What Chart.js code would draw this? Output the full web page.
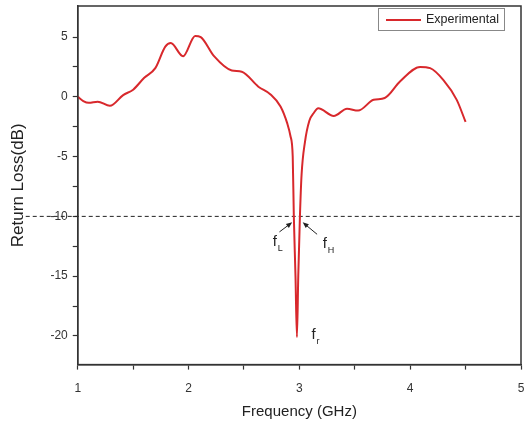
<!DOCTYPE html>
<html>
<head>
<meta charset="utf-8">
<script src="https://cdn.jsdelivr.net/npm/chart.js@4"></script>
<style>
  html, body { margin: 0; padding: 0; background: #fff; overflow: hidden; }
  #rlChart { display: block; }
</style>
</head>
<body>
<canvas id="rlChart" width="526" height="424"></canvas>
<script>
const freqGHz = [1.0, 1.05, 1.1, 1.18, 1.29, 1.41, 1.5, 1.6, 1.7, 1.79, 1.84, 1.95, 2.06, 2.11,
  2.23, 2.39, 2.48, 2.63, 2.74, 2.83, 2.89, 2.92, 2.94, 2.95, 2.965, 2.978, 2.99, 3.005, 3.02,
  3.05, 3.09, 3.13, 3.17, 3.31, 3.43, 3.53, 3.67, 3.77, 3.91, 4.09, 4.18, 4.3, 4.42, 4.5];
const returnLoss = [0.0, -0.35, -0.5, -0.4, -0.75, 0.15, 0.6, 1.6, 2.4, 4.2, 4.5, 3.4, 5.1, 5.0,
  3.4, 2.2, 2.1, 0.85, 0.2, -0.8, -2.2, -3.3, -5.0, -10.0, -15.0, -20.1, -15.0, -10.0, -6.5,
  -3.8, -2.0, -1.35, -0.95, -1.6, -1.0, -1.15, -0.25, -0.1, 1.3, 2.5, 2.4, 1.4, -0.25, -2.1];

// major (labelled) and minor tick positions
const xTicks = [1, 2, 3, 4, 5];
const xMinor = [1.5, 2.5, 3.5, 4.5];
const yTicks = [-20, -15, -10, -5, 0, 5];
const yMinor = [-17.5, -12.5, -7.5, -2.5, 2.5];
const refLevel = -10;

// subscripted labels and their arrows, in data units
const marks = [
  { x: 2.76, y: -12.1, main: 'f', sub: 'L', from: [2.82, -11.3], to: [2.935, -10.5] },
  { x: 3.21, y: -12.2, main: 'f', sub: 'H', from: [3.16, -11.5], to: [3.03, -10.5] },
  { x: 3.11, y: -19.8, main: 'f', sub: 'r' }
];

const font = 'Arial, "Liberation Sans", sans-serif';
const red = '#d8282c';
const axisColor = '#333';

function setTicks(axis, major, minor) {
  const all = major.concat(minor).filter(v => v >= axis.min && v <= axis.max).sort((a, b) => a - b);
  axis.ticks = all.map(v => ({ value: v, major: major.includes(v) }));
}

const extras = {
  id: 'extras',
  beforeDatasetsDraw(chart) {
    const { ctx, chartArea, scales } = chart;
    const y = scales.y.getPixelForValue(refLevel);
    ctx.save();
    ctx.strokeStyle = '#222';
    ctx.lineWidth = 1;
    ctx.setLineDash([4, 3]);
    ctx.beginPath();
    ctx.moveTo(chartArea.left - 52, y);
    ctx.lineTo(chartArea.right, y);
    ctx.stroke();
    ctx.restore();
  },
  afterDraw(chart) {
    const { ctx, chartArea, scales } = chart;
    ctx.save();
    // frame
    ctx.strokeStyle = axisColor;
    ctx.lineWidth = 1.5;
    ctx.strokeRect(chartArea.left, chartArea.top, chartArea.right - chartArea.left, chartArea.bottom - chartArea.top);

    // annotations
    ctx.fillStyle = '#222';
    ctx.strokeStyle = '#222';
    ctx.textBaseline = 'alphabetic';
    marks.forEach(m => {
      const px = scales.x.getPixelForValue(m.x);
      const py = scales.y.getPixelForValue(m.y);
      ctx.font = '15px ' + font;
      ctx.textAlign = 'left';
      ctx.fillText(m.main, px, py + 5);
      ctx.font = '9px ' + font;
      ctx.fillText(m.sub, px + 5, py + 10);
      if (m.from) {
        const x1 = scales.x.getPixelForValue(m.from[0]);
        const y1 = scales.y.getPixelForValue(m.from[1]);
        const x2 = scales.x.getPixelForValue(m.to[0]);
        const y2 = scales.y.getPixelForValue(m.to[1]);
        const a = Math.atan2(y2 - y1, x2 - x1);
        ctx.lineWidth = 1;
        ctx.beginPath();
        ctx.moveTo(x1, y1);
        ctx.lineTo(x2 - 4 * Math.cos(a), y2 - 4 * Math.sin(a));
        ctx.stroke();
        ctx.beginPath();
        ctx.moveTo(x2, y2);
        ctx.lineTo(x2 - 6 * Math.cos(a) + 2.5 * Math.sin(a), y2 - 6 * Math.sin(a) - 2.5 * Math.cos(a));
        ctx.lineTo(x2 - 6 * Math.cos(a) - 2.5 * Math.sin(a), y2 - 6 * Math.sin(a) + 2.5 * Math.cos(a));
        ctx.closePath();
        ctx.fill();
      }
    });

    // legend box
    const bx = chartArea.right - 143, by = chartArea.top + 2, bw = 126, bh = 22;
    ctx.fillStyle = '#fff';
    ctx.fillRect(bx, by, bw, bh);
    ctx.strokeStyle = '#888';
    ctx.lineWidth = 1;
    ctx.strokeRect(bx + 0.5, by + 0.5, bw, bh);
    ctx.strokeStyle = red;
    ctx.lineWidth = 2;
    ctx.beginPath();
    ctx.moveTo(bx + 8, by + 12);
    ctx.lineTo(bx + 43, by + 12);
    ctx.stroke();
    ctx.fillStyle = '#222';
    ctx.font = '12.5px ' + font;
    ctx.textAlign = 'left';
    ctx.textBaseline = 'middle';
    ctx.fillText('Experimental', bx + 48, by + 12);
    ctx.restore();
  }
};

new Chart(document.getElementById('rlChart').getContext('2d'), {
  type: 'line',
  data: {
    datasets: [{
      label: 'Experimental',
      data: freqGHz.map((f, i) => ({ x: f, y: returnLoss[i] })),
      borderColor: red,
      borderWidth: 2,
      pointRadius: 0,
      fill: false,
      cubicInterpolationMode: 'monotone'
    }]
  },
  options: {
    responsive: false,
    animation: false,
    layout: { padding: { top: 0, right: 0, bottom: 3, left: 8 } },
    plugins: {
      legend: { display: false },
      tooltip: { enabled: false }
    },
    scales: {
      x: {
        type: 'linear',
        min: 1,
        max: 5,
        afterBuildTicks: axis => setTicks(axis, xTicks, xMinor),
        // let the last label run off the edge like the original
        afterFit: axis => { axis.paddingRight = 5; },
        border: { display: true, color: axisColor, width: 1.5 },
        grid: { drawOnChartArea: false, tickLength: 5, color: axisColor, tickWidth: 1.2 },
        ticks: {
          color: '#333',
          font: { family: font, size: 12 },
          padding: 12,
          maxRotation: 0,
          autoSkip: false,
          callback: v => xTicks.includes(v) ? String(v) : ''
        },
        title: {
          display: true,
          text: 'Frequency (GHz)',
          color: '#222',
          font: { family: font, size: 15 },
          padding: { top: -5, bottom: 0 }
        }
      },
      y: {
        type: 'linear',
        min: -22.4,
        max: 7.6,
        afterBuildTicks: axis => setTicks(axis, yTicks, yMinor),
        afterFit: axis => { axis.paddingTop = 6; },
        border: { display: true, color: axisColor, width: 1.5 },
        grid: { drawOnChartArea: false, tickLength: 5, color: axisColor, tickWidth: 1.2 },
        ticks: {
          color: '#333',
          font: { family: font, size: 12 },
          padding: 5,
          autoSkip: false,
          callback: v => yTicks.includes(v) ? String(v) : ''
        },
        title: {
          display: true,
          text: 'Return Loss(dB)',
          color: '#222',
          font: { family: font, size: 17 },
          padding: { top: 0, bottom: 17 }
        }
      }
    }
  },
  plugins: [extras]
});
</script>
</body>
</html>
